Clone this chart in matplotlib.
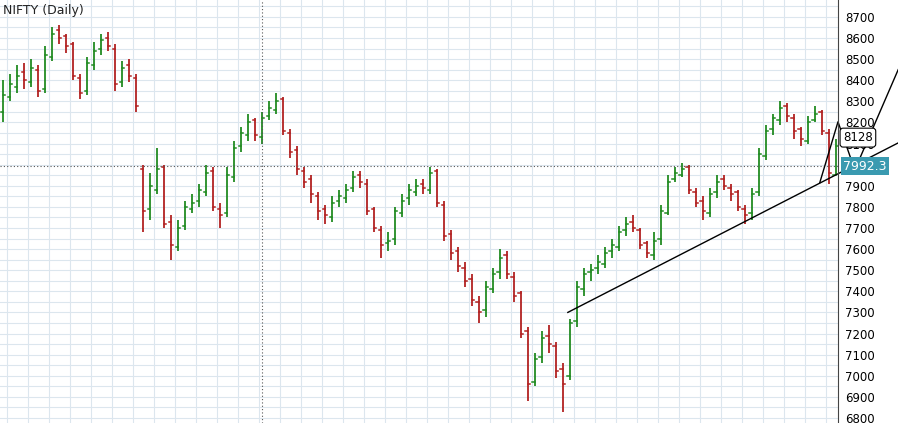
import matplotlib
matplotlib.use("Agg")
import matplotlib.pyplot as plt
import numpy as np

# daily bars (approximate)
closes = [8330, 8380, 8420, 8400, 8460, 8350, 8520, 8620, 8600, 8560,
          8420, 8340, 8480, 8540, 8590, 8560, 8380, 8460, 8420, 8280,
          7780, 7900, 7980, 7720, 7620, 7700, 7800, 7820, 7880, 7960,
          7800, 7760, 7950, 8080, 8150, 8200, 8140, 8220, 8270, 8300,
          8160, 8060, 7980, 7920, 7860, 7780, 7760, 7820, 7850, 7880,
          7940, 7920, 7780, 7700, 7620, 7640, 7780, 7830, 7880, 7900,
          7890, 7960, 7820, 7660, 7580, 7520, 7450, 7360, 7300, 7420,
          7480, 7560, 7480, 7380, 7200, 6960, 7080, 7180, 7150, 7020,
          6960, 7250, 7420, 7480, 7500, 7540, 7580, 7620, 7680, 7720,
          7700, 7620, 7580, 7640, 7780, 7920, 7960, 7980, 7880, 7820,
          7780, 7860, 7920, 7900, 7860, 7800, 7760, 7860, 8050, 8160,
          8220, 8270, 8230, 8160, 8120, 8200, 8240, 8160, 7960, 8090]
opens = [8250, 8320, 8370, 8440, 8390, 8450, 8360, 8510, 8640, 8610,
         8570, 8410, 8350, 8470, 8550, 8600, 8550, 8390, 8470, 8410,
         7980, 7790, 7880, 7990, 7730, 7610, 7710, 7790, 7830, 7870,
         7970, 7790, 7770, 7940, 8090, 8140, 8210, 8130, 8230, 8260,
         8310, 8150, 8070, 7970, 7930, 7850, 7790, 7750, 7830, 7840,
         7890, 7950, 7910, 7790, 7690, 7630, 7650, 7770, 7840, 7870,
         7910, 7880, 7970, 7810, 7670, 7590, 7510, 7460, 7350, 7310,
         7410, 7490, 7570, 7470, 7390, 7210, 6970, 7090, 7190, 7140,
         7030, 7000, 7260, 7410, 7490, 7510, 7530, 7590, 7610, 7690,
         7730, 7690, 7630, 7570, 7650, 7770, 7930, 7950, 7990, 7870,
         7830, 7770, 7870, 7930, 7890, 7870, 7790, 7770, 7870, 8040,
         8170, 8210, 8280, 8220, 8170, 8110, 8210, 8250, 8150, 7950]
highs = [8400, 8430, 8470, 8480, 8500, 8470, 8560, 8650, 8660, 8620,
         8580, 8430, 8510, 8580, 8620, 8630, 8570, 8490, 8500, 8430,
         8000, 7960, 8080, 8000, 7760, 7740, 7830, 7860, 7910, 8000,
         7990, 7820, 7990, 8110, 8180, 8240, 8220, 8250, 8300, 8340,
         8320, 8170, 8090, 7990, 7950, 7870, 7810, 7850, 7880, 7910,
         7970, 7970, 7930, 7800, 7710, 7680, 7800, 7860, 7910, 7930,
         7930, 7990, 7980, 7830, 7690, 7610, 7540, 7480, 7380, 7450,
         7510, 7600, 7590, 7490, 7400, 7230, 7110, 7210, 7240, 7160,
         7060, 7270, 7450, 7510, 7530, 7570, 7610, 7650, 7710, 7750,
         7760, 7700, 7640, 7680, 7810, 7950, 7990, 8010, 8000, 7890,
         7850, 7890, 7950, 7950, 7910, 7880, 7810, 7890, 8080, 8190,
         8240, 8300, 8290, 8240, 8180, 8230, 8280, 8260, 8170, 8120]
lows = [8200, 8300, 8340, 8360, 8370, 8320, 8340, 8490, 8570, 8530,
        8400, 8310, 8330, 8450, 8520, 8540, 8350, 8370, 8390, 8250,
        7680, 7740, 7860, 7700, 7550, 7590, 7690, 7770, 7800, 7850,
        7780, 7700, 7750, 7920, 8060, 8110, 8110, 8100, 8210, 8240,
        8140, 8030, 7950, 7890, 7820, 7740, 7720, 7730, 7800, 7820,
        7870, 7890, 7760, 7680, 7560, 7590, 7620, 7750, 7810, 7850,
        7860, 7860, 7800, 7640, 7550, 7490, 7420, 7330, 7250, 7280,
        7390, 7460, 7460, 7350, 7180, 6880, 6950, 7060, 7110, 6990,
        6830, 6980, 7230, 7380, 7450, 7480, 7510, 7560, 7590, 7660,
        7680, 7600, 7560, 7550, 7620, 7760, 7920, 7940, 7860, 7800,
        7740, 7750, 7840, 7880, 7830, 7780, 7720, 7740, 7850, 8020,
        8140, 8190, 8200, 8120, 8090, 8100, 8200, 8140, 7910, 7950]

last_price = 7992.3
box_price = 8128
y_ticks = list(range(6800, 8701, 100))

GREEN, RED = "#228b22", "#b22222"

fig = plt.figure(figsize=(8.98, 4.23), dpi=100)
ax = fig.add_axes([0, 0, 838 / 898, 1])
ax.set_xlim(-0.43, 119.3)
ax.set_ylim(6776, 8780)

# grid
for y in range(6800, 8751, 50):
    ax.axhline(y, color="#dce6ee", lw=0.8, zorder=0)
for xg in np.arange(0.6, 120, 3):
    ax.axvline(xg, color="#dce6ee", lw=0.8, zorder=0)

for i, (o, h, l, c) in enumerate(zip(opens, highs, lows, closes)):
    col = GREEN if c >= o else RED
    ax.plot([i, i], [l, h], color=col, lw=1.3, solid_capstyle="butt")
    ax.plot([i - 0.35, i], [o, o], color=col, lw=1.1)
    ax.plot([i, i + 0.35], [c, c], color=col, lw=1.1)

# cursor lines
ax.axhline(last_price, color="#555555", lw=0.8, ls=(0, (1, 2)))
ax.axvline(37, color="#555555", lw=0.8, ls=(0, (1, 2)))

# trend line and pattern drawing (extend into the price scale)
ax.plot([80.7, 127.9], [7300, 8103], color="black", lw=1, clip_on=False)
ax.plot([116.7, 119.3, 121.7, 127.9], [7915, 8203, 7975, 8450],
        color="black", lw=1, clip_on=False)

ax.set_xticks([])
ax.yaxis.tick_right()
ax.set_yticks(y_ticks)
ax.set_yticklabels([str(v) for v in y_ticks], fontsize=8.5)
ax.tick_params(axis="y", length=0, pad=5)
for s in ["top", "left", "bottom"]:
    ax.spines[s].set_visible(False)
ax.spines["right"].set_color("#444444")

ax.text(0.003, 0.99, "NIFTY (Daily)", transform=ax.transAxes, fontsize=9,
        va="top", ha="left", color="#222222")
ax.text(1.006, (box_price - 6776) / (8780 - 6776), str(box_price),
        transform=ax.transAxes, fontsize=8.5, va="center", ha="left",
        bbox=dict(boxstyle="round,pad=0.25", fc="white", ec="black", lw=0.8))
ax.text(1.006, (last_price - 6776) / (8780 - 6776), f"{last_price}",
        transform=ax.transAxes, fontsize=9, va="center", ha="left",
        color="white", bbox=dict(boxstyle="square,pad=0.2", fc="#3a9ab0", ec="none"))

fig.savefig("out.png", dpi=100)
